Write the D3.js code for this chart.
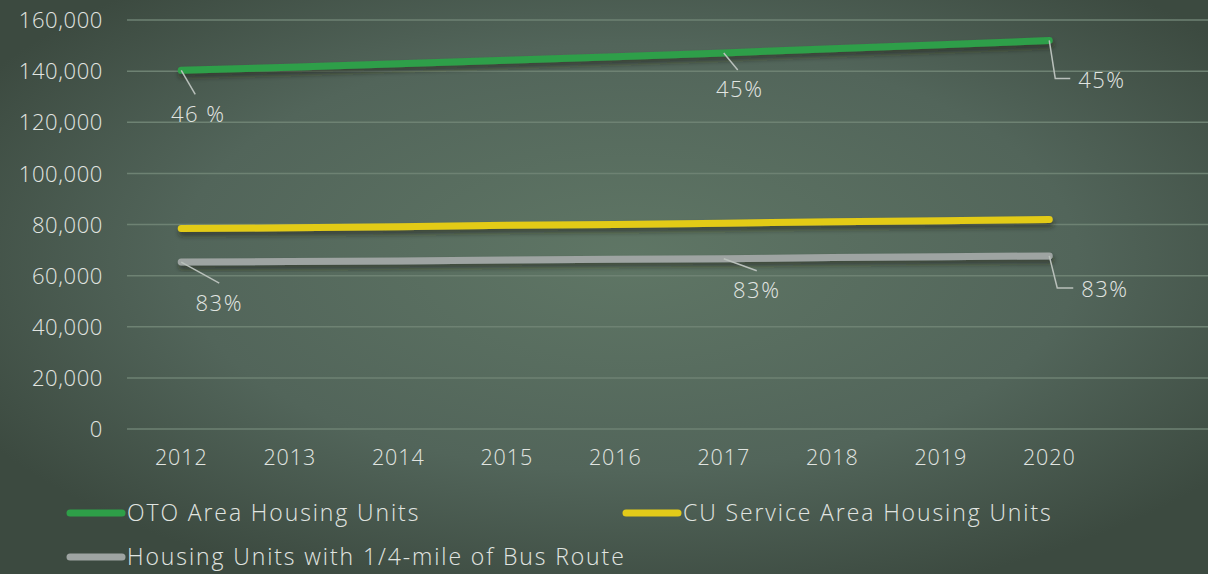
<!DOCTYPE html>
<html><head><meta charset="utf-8">
<script src="https://cdn.jsdelivr.net/npm/d3@7"></script>
<style>html,body{margin:0;padding:0;overflow:hidden;background:#45544a}</style>
</head><body>
<script>
const years = ["2012","2013","2014","2015","2016","2017","2018","2019","2020"];
const otoUnits = [140300,141500,142900,144300,145600,147100,148800,150300,152000];
const cuUnits = [78400,78700,79100,79700,80000,80500,81100,81500,82000];
const busUnits = [65300,65500,65700,66100,66400,66600,67100,67400,67700];
const yTicks = [0,20000,40000,60000,80000,100000,120000,140000,160000];
const seriesNames = ["OTO Area Housing Units","CU Service Area Housing Units","Housing Units with 1/4-mile of Bus Route"];
const seriesColors = ["#2e9f48","#e3cb19","#9ea4a2"];
const otoLabels = [{year:"2012",text:"46 %"},{year:"2017",text:"45%"},{year:"2020",text:"45%"}];
const busLabels = [{year:"2012",text:"83%"},{year:"2017",text:"83%"},{year:"2020",text:"83%"}];

const W=1208,H=574;
const svg=d3.select("body").append("svg").attr("width",W).attr("height",H);
const defs=svg.append("defs");
const rg=defs.append("radialGradient").attr("id","bg").attr("cx","52%").attr("cy","45%").attr("r","62%");
rg.append("stop").attr("offset","0%").attr("stop-color","#5f7665");
rg.append("stop").attr("offset","60%").attr("stop-color","#52655a");
rg.append("stop").attr("offset","100%").attr("stop-color","#3c4a40");
const f=defs.append("filter").attr("id","sh").attr("x","-5%").attr("y","-50%").attr("width","110%").attr("height","300%");
f.append("feDropShadow").attr("dx",1).attr("dy",4).attr("stdDeviation",2.5).attr("flood-color","#1a2219").attr("flood-opacity",0.55);
svg.append("rect").attr("width",W).attr("height",H).attr("fill","url(#bg)");

const font="'Open Sans', sans-serif";
const txt="#e1e5e1";
const x=d3.scaleBand().domain(years).range([127,1103.5]);
const y=d3.scaleLinear().domain([0,160000]).range([429,20]);
const cx=d=>x(d)+x.bandwidth()/2;
function style(sel,size,ls){sel.attr("fill",txt).style("font-family",font).style("font-size",size+"px")
  .style("font-weight",300).style("letter-spacing",ls+"px");}

// grid
svg.append("g").selectAll("line").data(yTicks).join("line")
 .attr("x1",127).attr("x2",W).attr("y1",d=>y(d)).attr("y2",d=>y(d))
 .attr("stroke","#6e8273").attr("stroke-width",1.5);

// y axis
const ya=svg.append("g").attr("transform","translate(103,0)")
 .call(d3.axisLeft(y).tickValues(yTicks).tickSize(0).tickPadding(0).tickFormat(d3.format(",")));
ya.select(".domain").remove();
ya.selectAll("text").call(style,22,0.6).attr("dy","0.35em");

// x axis
const xa=svg.append("g").attr("transform","translate(0,449)")
 .call(d3.axisBottom(x).tickSize(0).tickPadding(0));
xa.select(".domain").remove();
xa.selectAll("text").call(style,21.5,0.9).attr("dy","0.75em");

const data=[otoUnits,cuUnits,busUnits];
const line=d3.line().x((d,i)=>cx(years[i])).y(d=>y(d));
svg.append("g").selectAll("path").data(data).join("path")
 .attr("d",line).attr("fill","none").attr("stroke",(d,i)=>seriesColors[i])
 .attr("stroke-width",7).attr("stroke-linecap","round").attr("stroke-linejoin","round")
 .attr("filter","url(#sh)");

// labels
function val(arr,yr){return arr[years.indexOf(yr)];}
const lab=svg.append("g");
function drawLabel(arr,l,o){
  const px=cx(l.year), py=y(val(arr,l.year));
  lab.append("path").attr("d",d3.line()([[px,py]].concat(o.pts.map(p=>[px+p[0],py+p[1]]))))
   .attr("fill","none").attr("stroke","#b9c0bb").attr("stroke-width",1.5);
  lab.append("text").attr("x",px+o.tx).attr("y",py+o.ty).attr("text-anchor",o.anchor)
   .attr("dy","0.35em").call(style,22,1.5).text(l.text);
}
const otoOff=[{pts:[[14,24]],tx:17,ty:44,anchor:"middle"},{pts:[[14,17]],tx:16,ty:36,anchor:"middle"},{pts:[[6,38],[21,38]],tx:29,ty:40,anchor:"start"}];
const busOff=[{pts:[[38,21]],tx:38,ty:41,anchor:"middle"},{pts:[[33,12]],tx:33,ty:32,anchor:"middle"},{pts:[[8,32],[24,32]],tx:32,ty:33,anchor:"start"}];
otoLabels.forEach((l,i)=>drawLabel(otoUnits,l,otoOff[i]));
busLabels.forEach((l,i)=>drawLabel(busUnits,l,busOff[i]));

// legend
const legPos=[[67,513],[623,513],[67,557]];
const lg=svg.append("g");
seriesNames.forEach((n,i)=>{
  const [lx,ly]=legPos[i];
  lg.append("line").attr("x1",lx+3).attr("x2",lx+55).attr("y1",ly).attr("y2",ly)
   .attr("stroke",seriesColors[i]).attr("stroke-width",7).attr("stroke-linecap","round");
  lg.append("text").attr("x",lx+60).attr("y",ly).attr("dy","0.35em").call(style,23,1.9).text(n);
});
</script>
</body></html>
